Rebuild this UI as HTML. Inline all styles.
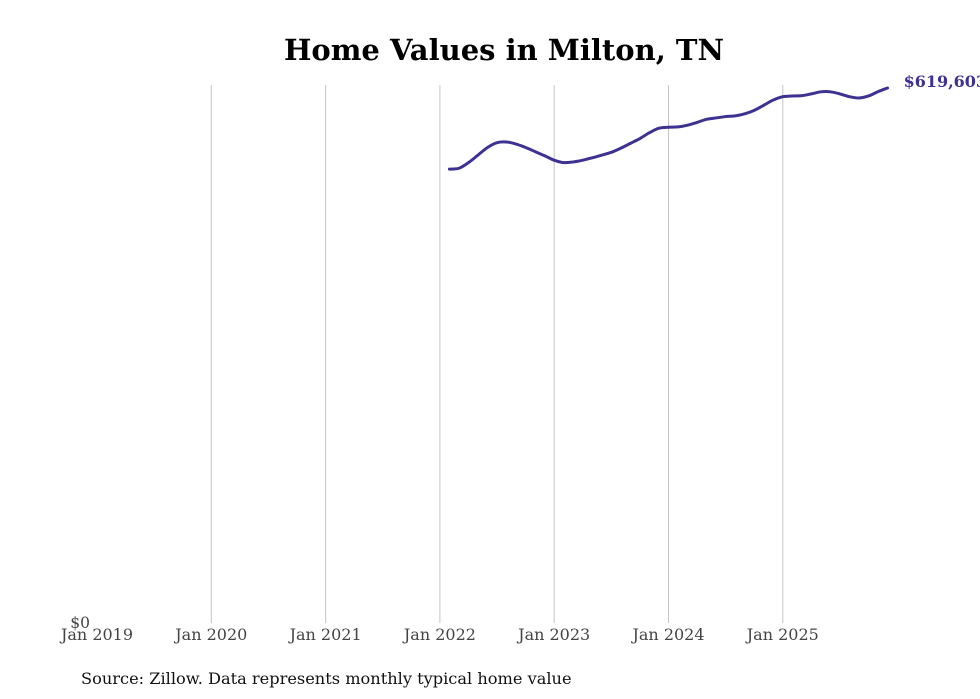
<!DOCTYPE html>
<html><head><meta charset="utf-8"><style>
body{margin:0;background:#fff;}
svg{display:block;font-family:"DejaVu Serif","Liberation Serif",serif;}
</style></head><body>
<svg id="chart" width="980" height="699" viewBox="0 0 980 699">
<text x="504" y="60" text-anchor="middle" font-size="29" font-weight="bold" fill="#000">Home Values in Milton, TN</text>
<g id="grid"></g>
<g id="xticks"></g>
<text x="90" y="628" text-anchor="end" font-size="15.5" fill="#444">$0</text>
<path id="line" fill="none" stroke="#3d3191" stroke-width="3" stroke-linejoin="round" stroke-linecap="round"/>
<text id="endlabel" font-size="16" font-weight="bold" fill="#3d3191"></text>
<text x="81" y="684" font-size="16.2" fill="#111">Source: Zillow. Data represents monthly typical home value</text>
</svg>
<script>
const tickLabels=["Jan 2019","Jan 2020","Jan 2021","Jan 2022","Jan 2023","Jan 2024","Jan 2025"];
const startMonth=37; // Feb 2022, months since Jan 2019
const values=[526000,527000,533500,542200,550950,556500,557300,554900,550950,546200,541400,536300,533500,534300,536300,539100,542200,545400,550200,555700,561300,568000,573200,574350,574750,576700,579900,583500,585050,586650,587400,589800,593800,599700,605700,609600,610400,610800,612800,615200,615200,612800,609600,608100,610400,615400,619603];
const NS="http://www.w3.org/2000/svg";
const xS=m=>97+m*9.525;
const yS=v=>625-v*537/619603;
const grid=document.getElementById('grid'),xt=document.getElementById('xticks');
tickLabels.forEach((t,i)=>{
  const x=xS(i*12);
  if(i>0){const l=document.createElementNS(NS,'line');
  
  
  l.setAttribute('x1',x);l.setAttribute('x2',x);l.setAttribute('y1',85);l.setAttribute('y2',623);
  l.setAttribute('stroke','#c4c4c4');l.setAttribute('stroke-width','1');grid.appendChild(l);}
  const tx=document.createElementNS(NS,'text');
  
  
  tx.setAttribute('x',x);tx.setAttribute('y',640);tx.setAttribute('text-anchor','middle');
  tx.setAttribute('font-size','16');tx.setAttribute('fill','#444');tx.textContent=t;xt.appendChild(tx);
});
const pts=values.map((v,i)=>[xS(startMonth+i),yS(v)]);
let d='M'+pts[0][0]+','+pts[0][1];
for(let i=1;i<pts.length;i++){
  const p0=pts[Math.max(0,i-2)],p1=pts[i-1],p2=pts[i],p3=pts[Math.min(pts.length-1,i+1)];
  const c1=[p1[0]+(p2[0]-p0[0])/6,p1[1]+(p2[1]-p0[1])/6],c2=[p2[0]-(p3[0]-p1[0])/6,p2[1]-(p3[1]-p1[1])/6];
  d+=' C'+c1+' '+c2+' '+p2;
}
document.getElementById('line').setAttribute('d',d);
const last=pts[pts.length-1],el=document.getElementById('endlabel');
el.setAttribute('x',last[0]+16);el.setAttribute('y',last[1]-1);
el.textContent='$'+values[values.length-1].toLocaleString('en-US');
</script>
</body></html>
